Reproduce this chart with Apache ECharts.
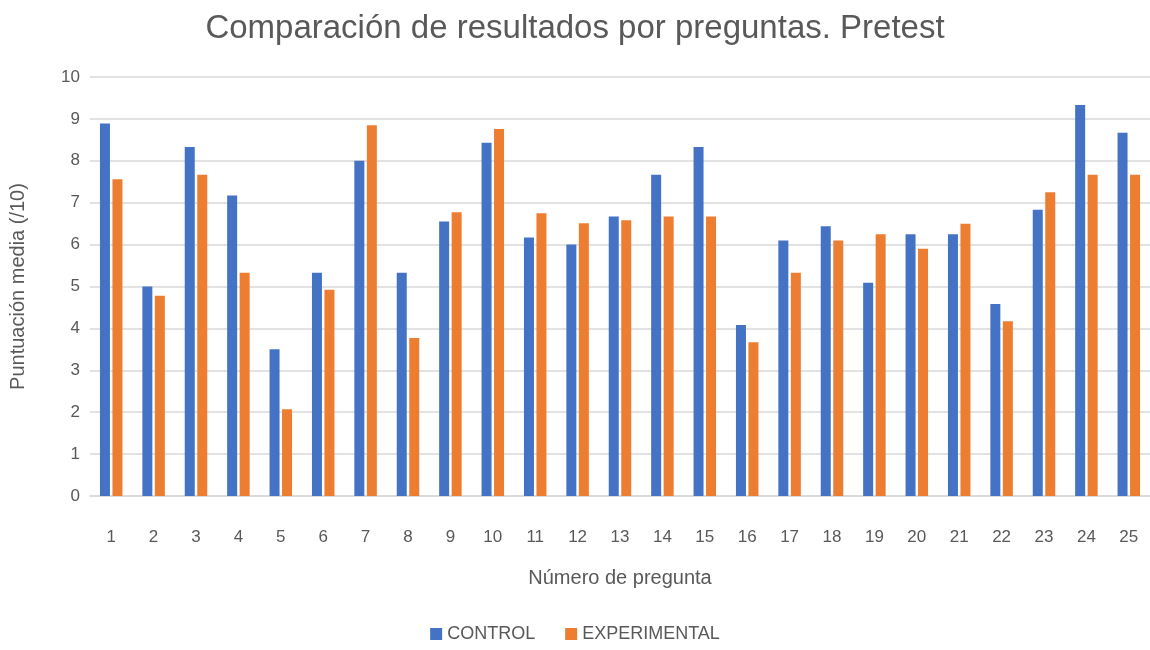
<!DOCTYPE html>
<html>
<head>
<meta charset="utf-8">
<script src="https://cdn.jsdelivr.net/npm/echarts@6/dist/echarts.min.js"></script>
<style>
  html, body { margin: 0; padding: 0; background: #fff; }
  #chart { width: 1150px; height: 650px; }
</style>
</head>
<body>
<div id="chart"></div>
<script>
// datos
const preguntas = ['1','2','3','4','5','6','7','8','9','10','11','12','13','14','15','16','17','18','19','20','21','22','23','24','25'];
const control = [8.89, 5.0, 8.33, 7.17, 3.5, 5.33, 8.0, 5.33, 6.55, 8.43, 6.17, 6.0, 6.67, 7.67, 8.33, 4.08, 6.1, 6.44, 5.09, 6.25, 6.25, 4.58, 6.83, 9.33, 8.67];
const experimental = [7.56, 4.78, 7.67, 5.33, 2.07, 4.92, 8.85, 3.77, 6.77, 8.76, 6.75, 6.51, 6.58, 6.67, 6.67, 3.67, 5.33, 6.1, 6.25, 5.9, 6.5, 4.17, 7.25, 7.67, 7.67];

const chart = echarts.init(document.getElementById('chart'));
const font = 'Liberation Sans, Arial, sans-serif';
const gris = '#595959';

const option = {
  backgroundColor: '#fff',
  animation: false,
  textStyle: { fontFamily: font },
  title: {
    text: 'Comparación de resultados por preguntas. Pretest',
    left: 'center',
    top: 7,
    textStyle: { fontSize: 33, fontWeight: 'normal', color: gris, fontFamily: font }
  },
  legend: {
    data: ['CONTROL', 'EXPERIMENTAL'],
    bottom: 2,
    left: 'center',
    icon: 'rect',
    itemWidth: 12,
    itemHeight: 12,
    itemGap: 30,
    textStyle: { fontSize: 18, color: gris, fontFamily: font }
  },
  grid: {
    left: 90,
    top: 77,
    width: 1062,
    height: 419,
    containLabel: false
  },
  xAxis: {
    type: 'category',
    data: preguntas,
    name: 'Número de pregunta',
    nameLocation: 'middle',
    nameGap: 72,
    nameTextStyle: { fontSize: 20, color: gris },
    axisLine: { lineStyle: { color: '#d9d9d9', width: 1.5 } },
    axisTick: { show: false },
    axisLabel: { fontSize: 17, color: gris, margin: 33 }
  },
  yAxis: {
    type: 'value',
    min: 0,
    max: 10,
    interval: 1,
    name: 'Puntuación media (/10)',
    nameLocation: 'middle',
    nameGap: 62,
    nameRotate: 90,
    nameTextStyle: { fontSize: 20, color: gris },
    axisLine: { show: false },
    axisTick: { show: false },
    axisLabel: { fontSize: 17, color: gris, margin: 10 },
    splitLine: { lineStyle: { color: '#d9d9d9', width: 1.5 } }
  },
  series: [
    {
      name: 'CONTROL',
      type: 'bar',
      data: control,
      barWidth: 10,
      barGap: '25%',
      itemStyle: { color: '#4472c4' }
    },
    {
      name: 'EXPERIMENTAL',
      type: 'bar',
      data: experimental,
      barWidth: 10,
      itemStyle: { color: '#ed7d31' }
    }
  ]
};

chart.setOption(option);
</script>
</body>
</html>
